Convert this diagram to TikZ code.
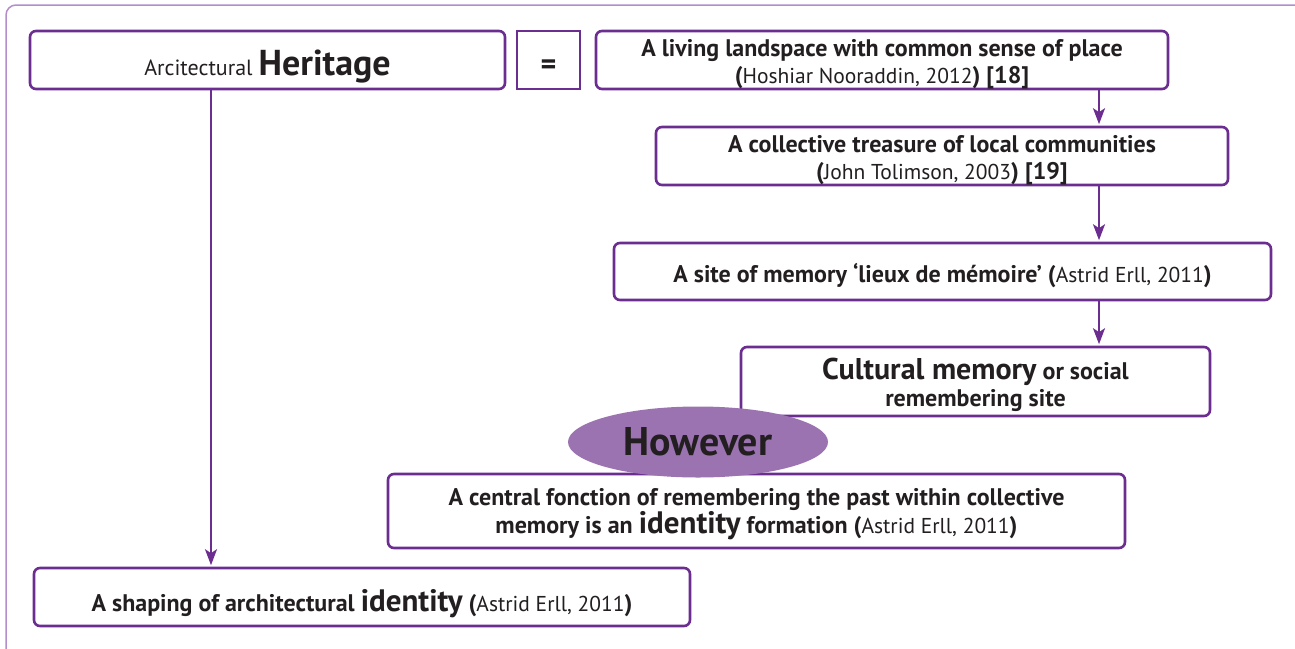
\documentclass[tikz,border=0pt]{standalone}
\usepackage{fontspec}
\setmainfont{PT Sans}
\usetikzlibrary{arrows.meta,shapes.geometric}
\tikzset{>=Stealth}
\definecolor{boxline}{HTML}{6B2D90}
\definecolor{frameline}{HTML}{B48DCB}
\definecolor{ovalfill}{HTML}{9B73B1}
\definecolor{ink}{HTML}{231F20}
\newcommand{\rg}[1]{{\fontsize{21.5}{27}\fontseries{m}\selectfont #1}}
\newcommand{\bigtxt}[2]{{\fontsize{#1}{27}\selectfont #2}}
\begin{document}
\begin{tikzpicture}[x=1pt,y=1pt,
  box/.style={draw=boxline,line width=2.6pt,rounded corners=6pt,fill=white,
    align=center,inner sep=0pt,text=ink,font=\fontsize{24}{27}\selectfont\bfseries},
  eqbox/.style={box,rounded corners=0pt},
  push/.style={execute at begin node={\rule{0pt}{#1}}},
  lower/.style={text height=#1,text depth=0pt},
  link/.style={->,draw=boxline,line width=2.2pt,shorten >=1.5pt,
    >={Stealth[length=16pt,width=12pt,inset=4pt]}}]
\useasboundingbox (0,0) rectangle (1295,-648);
\clip (0,0) rectangle (1295,-648);
\draw[frameline,line width=1.5pt,rounded corners=10pt] (6,-5) rectangle (1320,-670);
% boxes
\node[box,push=38pt,minimum width=475pt,minimum height=58pt] (heritage) at (267.5,-60)
  {\rg{\fontsize{22}{27}\selectfont Arcitectural} \bigtxt{36}{Heritage}};
\node[eqbox,push=28pt,minimum width=63pt,minimum height=58pt] (eq) at (548.5,-60) {\bigtxt{30}{=}};
\node[box,lower=47pt,minimum width=572pt,minimum height=58pt] (living) at (882,-60)
  {A living landspace with common sense of place\\ (\rg{Hoshiar Nooraddin, 2012}) [18]};
\node[box,lower=47pt,minimum width=572pt,minimum height=58pt] (treasure) at (942,-156)
  {A collective treasure of local communities\\ (\rg{John Tolimson, 2003}) [19]};
\node[box,push=27pt,minimum width=657pt,minimum height=57pt] (site) at (942.5,-271.5)
  {A site of memory `lieux de mémoire' (\rg{Astrid Erll, 2011})};
\node[box,lower=49pt,minimum width=469pt,minimum height=69pt] (cultural) at (975.5,-381.5)
  {\bigtxt{30}{Cultural memory} or social\\ remembering site};
\node[box,lower=45pt,minimum width=737pt,minimum height=74pt] (central) at (756.5,-511)
  {A central fonction of remembering the past within collective\\
   memory is an \bigtxt{31}{identity} formation (\rg{Astrid Erll, 2011})};
\node[box,push=34.5pt,minimum width=656pt,minimum height=58pt] (shaping) at (362,-597)
  {A shaping of architectural \bigtxt{31}{identity} (\rg{Astrid Erll, 2011})};
\node[ellipse,fill=ovalfill,minimum width=260pt,minimum height=71pt,inner sep=0pt,
  text=ink,font=\fontsize{40}{40}\selectfont\bfseries] (however) at (698,-442) {However};
% arrows
\coordinate (rcol) at (1099,0);
\coordinate (lcol) at (211,0);
\draw[link] (living.south -| rcol) -- (treasure.north -| rcol);
\draw[link] (treasure.south -| rcol) -- (site.north -| rcol);
\draw[link] (site.south -| rcol) -- (cultural.north -| rcol);
\draw[link] (heritage.south -| lcol) -- (shaping.north -| lcol);
\end{tikzpicture}
\end{document}
